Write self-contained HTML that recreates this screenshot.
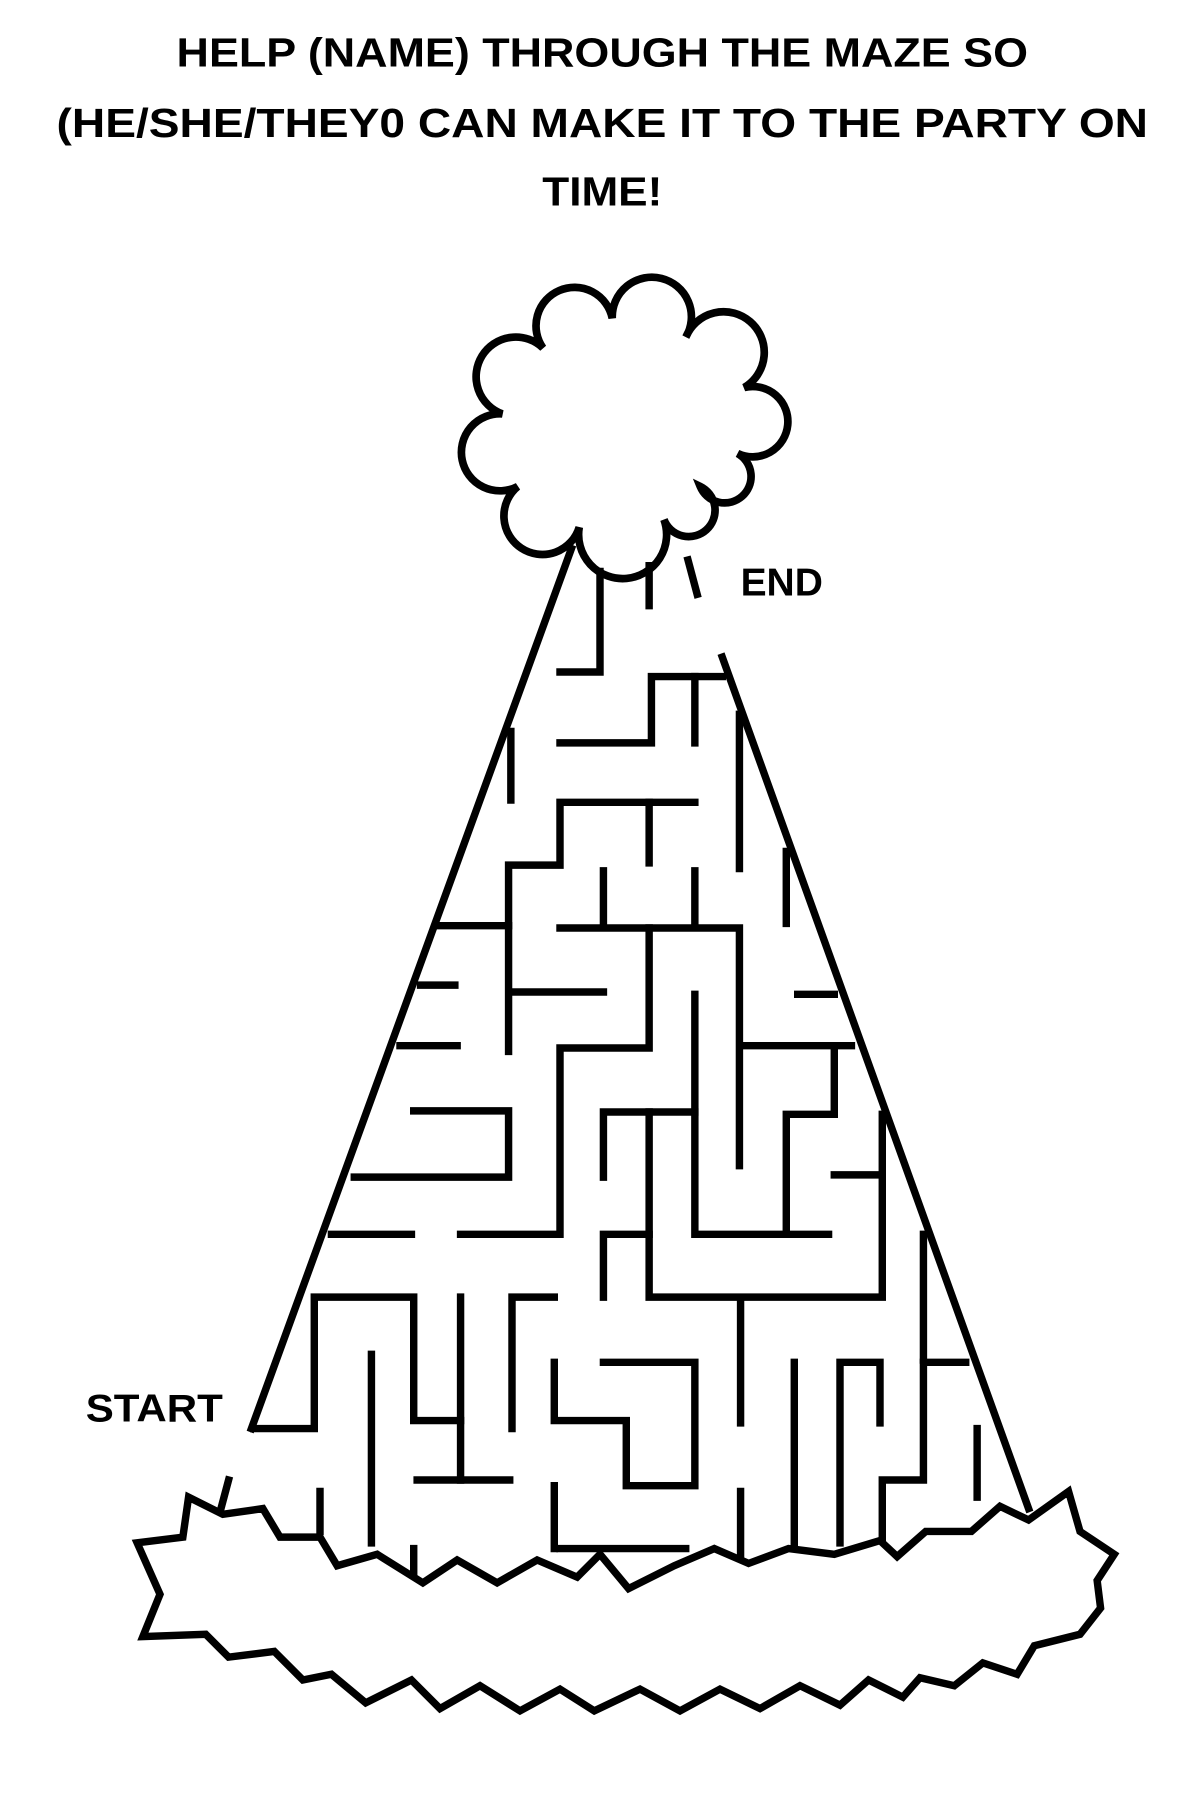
<!DOCTYPE html>
<html><head><meta charset="utf-8"><style>
html,body{margin:0;padding:0;background:#fff;}
svg{display:block;}
text{font-family:"Liberation Sans",sans-serif;font-weight:bold;fill:#000;}
</style></head><body>
<svg width="1200" height="1800" viewBox="0 0 1050 1575" xmlns="http://www.w3.org/2000/svg">
<rect width="1050" height="1575" fill="#fff"/>
<text x="527" y="58" font-size="36" text-anchor="middle" textLength="745" lengthAdjust="spacingAndGlyphs">HELP (NAME) THROUGH THE MAZE SO</text>
<text x="527" y="120" font-size="36" text-anchor="middle" textLength="955" lengthAdjust="spacingAndGlyphs">(HE/SHE/THEY0 CAN MAKE IT TO THE PARTY ON</text>
<text x="527" y="180" font-size="36" text-anchor="middle" textLength="105" lengthAdjust="spacingAndGlyphs">TIME!</text>
<text x="648" y="521" font-size="34" textLength="72" lengthAdjust="spacingAndGlyphs">END</text>
<text x="75" y="1244" font-size="34" textLength="120" lengthAdjust="spacingAndGlyphs">START</text>

<g fill="none" stroke="#000" stroke-width="6.5" stroke-linejoin="miter" stroke-linecap="square">
<!-- pompom -->
<g transform="translate(543,370) scale(1.1) translate(-543,-372) scale(0.875)" stroke-width="7">
<path d="M613,330 A36,36 0 1 1 680,347 A37,37 0 1 1 733,393 A32,32 0 1 1 727,453 A24,24 0 1 1 693,483 A24,24 0 1 1 660,513 A40,40 0 1 1 583,520 A35,35 0 1 1 527,483 A35,35 0 1 1 513,417 A36,36 0 1 1 550,357 A35,35 0 1 1 613,330 Z" fill="#fff"/>
</g>
<path d="M500,480 L220,1250"/>
<path d="M632,575 L900,1320"/>
<path d="M200,1295 L192,1325"/>
<path d="M525,500 V588 H490"/>
<path d="M568,495 V530"/>
<path d="M602,490 L610,520"/>
<path d="M632,592 H570 V650 H490"/>
<path d="M608,592 V650"/>
<path d="M447,640 V700"/>
<path d="M647,625 V760"/>
<path d="M608,702 H490 V757 H445 V920"/>
<path d="M568,702 V755"/>
<path d="M688,745 V808"/>
<path d="M528,762 V810"/>
<path d="M608,762 V810"/>
<path d="M385,810 H445"/>
<path d="M490,812 H647 V1020"/>
<path d="M568,812 V917 H490 V1080 H403"/>
<path d="M368,862 H398"/>
<path d="M448,868 H528"/>
<path d="M608,870 V1080 H725"/>
<path d="M698,870 H730"/>
<path d="M350,915 H400"/>
<path d="M648,915 H745"/>
<path d="M730,915 V975 H688 V1080"/>
<path d="M362,972 H445 V1030 H310"/>
<path d="M528,1030 V973 H608"/>
<path d="M568,973 V1135 H772 V975"/>
<path d="M730,1028 H772"/>
<path d="M290,1080 H360"/>
<path d="M528,1135 V1080 H568"/>
<path d="M808,1080 V1190"/>
<path d="M222,1250 H275 V1135 H362 V1243 H403"/>
<path d="M403,1135 V1295"/>
<path d="M365,1295 H446"/>
<path d="M485,1135 H448 V1250"/>
<path d="M325,1185 V1350"/>
<path d="M485,1192 V1243 H548 V1300 H608 V1192 H528"/>
<path d="M648,1140 V1245"/>
<path d="M695,1192 V1355"/>
<path d="M770,1245 V1192 H735 V1350"/>
<path d="M845,1192 H808 V1295 H772 V1350"/>
<path d="M855,1250 V1310"/>
<path d="M280,1305 V1340"/>
<path d="M485,1300 V1355"/>
<path d="M648,1305 V1360"/>
<path d="M362,1355 V1385"/>
<path d="M490,1355 H600"/>
<path fill="#fff" d="M120,1350 L160,1345 L165,1310 L195,1325 L230,1320 L245,1345 L280,1345 L295,1370 L330,1360 L370,1385 L400,1365 L435,1385 L470,1365 L505,1380 L525,1360 L550,1390 L590,1370 L625,1355 L655,1368 L690,1355 L730,1360 L770,1348 L785,1362 L810,1340 L850,1340 L875,1318 L900,1330 L935,1305 L945,1340 L975,1360 L960,1383 L963,1407 L945,1430 L905,1440 L890,1465 L860,1455 L835,1475 L805,1468 L790,1485 L760,1470 L735,1492 L700,1475 L665,1495 L630,1478 L595,1497 L560,1478 L520,1497 L490,1478 L455,1497 L420,1475 L385,1495 L360,1470 L320,1490 L290,1465 L265,1470 L240,1445 L200,1450 L180,1430 L125,1432 L140,1395 Z"/>
</g>
</svg>
</body></html>
